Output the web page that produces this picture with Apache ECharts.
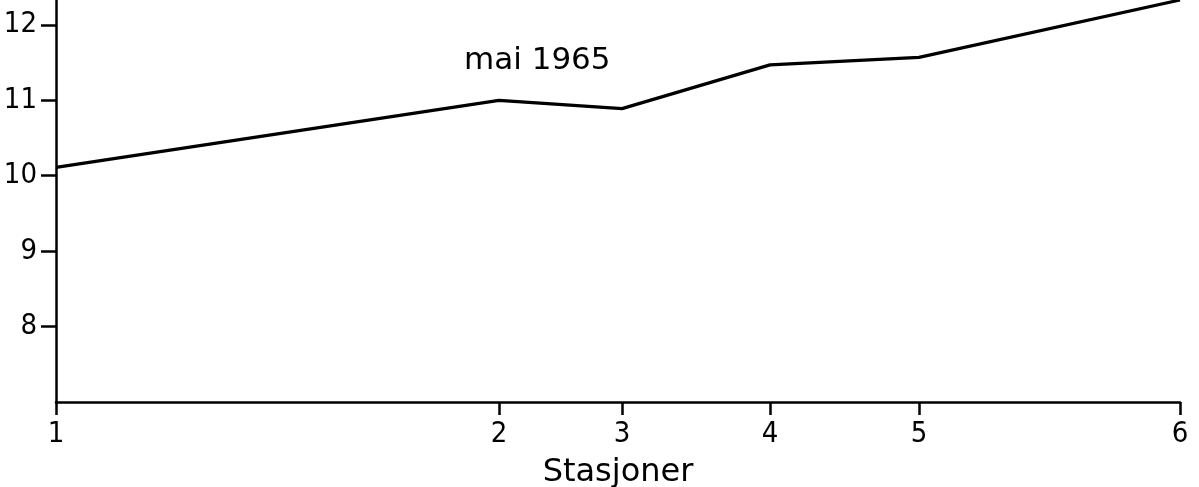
<!DOCTYPE html>
<html>
<head>
<meta charset="utf-8">
<script src="https://cdn.jsdelivr.net/npm/echarts@6/dist/echarts.min.js"></script>
<style>
html,body{margin:0;padding:0;background:#fff;}
#chart{width:1199px;height:487px;}
</style>
</head>
<body>
<div id="chart"></div>
<script>
// Station positions along the section (relative distance units) and labels
const stationDist = [0, 44.3, 56.6, 71.4, 86.3, 112.4];
const stationLabels = ['1', '2', '3', '4', '5', '6'];
// Values, mai 1965
const values = [10.11, 11.0, 10.89, 11.47, 11.57, 12.33];
// Y tick labels
const yTicks = [8, 9, 10, 11, 12];
const seriesLabel = 'mai 1965';
const xAxisName = 'Stasjoner';

const FONT = '"DejaVu Sans", "Liberation Sans", sans-serif';
const TICKFONT = '"DejaVu Sans Condensed", "Liberation Sans Narrow", "DejaVu Sans", sans-serif';
const chart = echarts.init(document.getElementById('chart'), null, {renderer: 'canvas'});
chart.setOption({
  animation: false,
  backgroundColor: '#ffffff',
  grid: {left: 56, right: 19, top: 0, bottom: 85, containLabel: false, outerBoundsMode: 'none'},
  xAxis: {
    type: 'value',
    min: 0,
    max: stationDist[stationDist.length - 1],
    name: xAxisName,
    nameLocation: 'middle',
    nameGap: 55,
    nameTextStyle: {fontFamily: FONT, fontSize: 32, color: '#000'},
    axisLine: {show: true, onZero: false, lineStyle: {color: '#000', width: 2.5}},
    axisTick: {show: true, inside: false, length: 13, customValues: stationDist, lineStyle: {color: '#000', width: 2.5}},
    axisLabel: {
      customValues: stationDist,
      margin: 18,
      fontFamily: TICKFONT, fontSize: 29, color: '#000',
      formatter: function (v) {
        const i = stationDist.findIndex(d => Math.abs(d - v) < 1e-6);
        return i >= 0 ? stationLabels[i] : '';
      }
    },
    splitLine: {show: false}
  },
  yAxis: {
    type: 'value',
    min: 7,
    max: 12.33,
    axisLine: {show: true, onZero: false, lineStyle: {color: '#000', width: 2.5}},
    axisTick: {show: true, inside: false, length: 15, customValues: yTicks, lineStyle: {color: '#000', width: 2.5}},
    axisLabel: {
      customValues: yTicks,
      margin: 19,
      fontFamily: TICKFONT, fontSize: 29, color: '#000'
    },
    splitLine: {show: false}
  },
  series: [{
    type: 'line',
    name: seriesLabel,
    data: stationDist.map((d, i) => [d, values[i]]),
    symbol: 'none',
    clip: false,
    lineStyle: {color: '#000', width: 3.2}
  }],
  graphic: [{
    type: 'text',
    left: 464,
    top: 45,
    style: {text: seriesLabel, fontFamily: FONT, fontSize: 31, fill: '#000'}
  }]
});
</script>
</body>
</html>
